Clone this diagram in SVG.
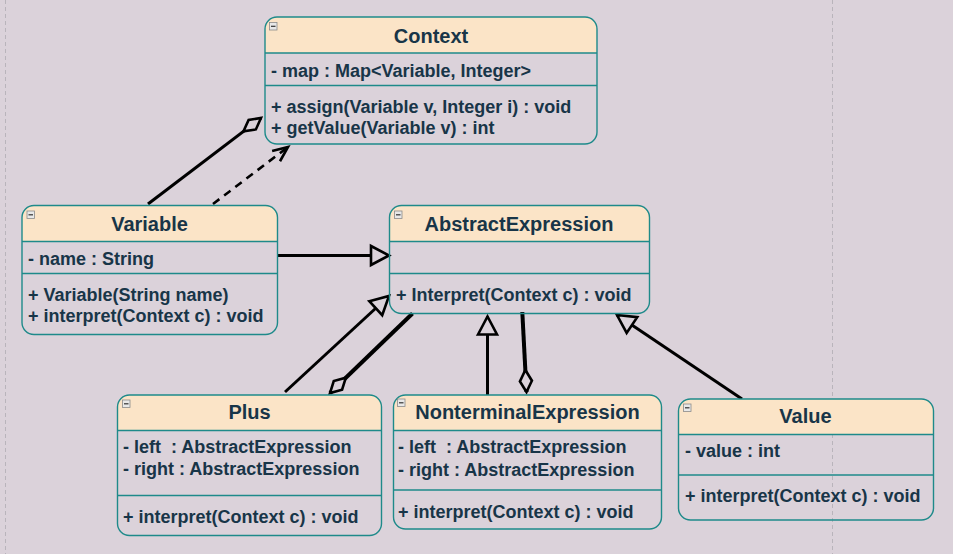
<svg xmlns="http://www.w3.org/2000/svg" width="953" height="554" viewBox="0 0 953 554">
<defs>
<style>
.hdr{fill:#fbe4c7;stroke:none}
.box{fill:none;stroke:#1e8a8a;stroke-width:1.4}
.sep{stroke:#1e8a8a;stroke-width:1.4}
.title{font-family:"Liberation Sans",Arial,sans-serif;font-weight:bold;font-size:20px;fill:#183548;text-anchor:middle}
.txt{font-family:"Liberation Sans",Arial,sans-serif;font-weight:bold;font-size:18px;fill:#183548;white-space:pre}
.icon{fill:#e8e8e8;stroke:#8a8a8a;stroke-width:0.8}
.iconm{stroke:#333;stroke-width:1.2}
.con{fill:none;stroke:#000;stroke-width:3}
.thick{stroke-width:4}
.dash{stroke-width:2.6;stroke-dasharray:8 6}
.grid{stroke:#b9b4bb;stroke-width:1;stroke-dasharray:4 3}
</style>
<marker id="tri" markerUnits="userSpaceOnUse" markerWidth="20" markerHeight="21" refX="18" refY="9.5" orient="auto" overflow="visible">
<path d="M0,0 L18,9.5 L0,19 Z" fill="#dbd2da" stroke="#000" stroke-width="2.6"/>
</marker>
<marker id="dia" markerUnits="userSpaceOnUse" markerWidth="24" markerHeight="14" refX="22" refY="6" orient="auto" overflow="visible">
<path d="M0,6 L11,0 L22,6 L11,12 Z" fill="#dbd2da" stroke="#000" stroke-width="2.6"/>
</marker>
<marker id="open" markerUnits="userSpaceOnUse" markerWidth="16" markerHeight="14" refX="15" refY="6.5" orient="auto" overflow="visible">
<path d="M0,0 L15,6.5 L0,13" fill="none" stroke="#000" stroke-width="2.6"/>
</marker>
</defs>
<rect width="953" height="554" fill="#dbd2da"/>
<g id="page-lines">
<line class="grid" x1="5.5" y1="0" x2="5.5" y2="554"/>
<line class="grid" x1="832.5" y1="0" x2="832.5" y2="554"/>
</g>
<g id="connectors">
<path class="con" d="M148,204 L261,118" marker-end="url(#dia)"/>
<path class="con dash" d="M213,204 L288,147" marker-end="url(#open)"/>
<path class="con" d="M277,255.5 L389,255.5" marker-end="url(#tri)"/>
<path class="con" d="M285,392 L389,296" marker-end="url(#tri)"/>
<path class="con thick" d="M412.5,313.5 L330,393" marker-end="url(#dia)"/>
<path class="con" d="M487.5,395 L487.5,316.5" marker-end="url(#tri)"/>
<path class="con thick" d="M522.3,312 L526.5,392" marker-end="url(#dia)"/>
<path class="con" d="M742,399 L617,315" marker-end="url(#tri)"/>
</g>
<g id="Context">
<path class="hdr" d="M265,53 V29 A12,12 0 0 1 277,17 H585 A12,12 0 0 1 597,29 V53 Z"/>
<rect class="box" x="265" y="17" width="332" height="127" rx="12"/>
<line class="sep" x1="265" y1="53" x2="597" y2="53"/>
<line class="sep" x1="265" y1="85.5" x2="597" y2="85.5"/>
<rect class="icon" x="269.5" y="22.5" width="7.5" height="7.5"/><line class="iconm" x1="271" y1="26.3" x2="275.5" y2="26.3"/>
<text class="title" x="431" y="43.3">Context</text>
<text class="txt" x="271" y="76.7">- map : Map&lt;Variable, Integer&gt;</text>
<text class="txt" x="271" y="112.7">+ assign(Variable v, Integer i) : void</text>
<text class="txt" x="271" y="134.3">+ getValue(Variable v) : int</text>
</g>
<g id="Variable">
<path class="hdr" d="M22,241.5 V217.5 A12,12 0 0 1 34,205.5 H265.5 A12,12 0 0 1 277.5,217.5 V241.5 Z"/>
<rect class="box" x="22" y="205.5" width="255.5" height="129" rx="12"/>
<line class="sep" x1="22" y1="241.5" x2="277.5" y2="241.5"/>
<line class="sep" x1="22" y1="273.5" x2="277.5" y2="273.5"/>
<rect class="icon" x="27" y="211" width="7.5" height="7.5"/><line class="iconm" x1="28.5" y1="214.8" x2="33" y2="214.8"/>
<text class="title" x="149.5" y="230.7">Variable</text>
<text class="txt" x="28" y="265">- name : String</text>
<text class="txt" x="28" y="301">+ Variable(String name)</text>
<text class="txt" x="28" y="322.3">+ interpret(Context c) : void</text>
</g>
<g id="AbstractExpression">
<path class="hdr" d="M389.5,241.5 V217.5 A12,12 0 0 1 401.5,205.5 H637.5 A12,12 0 0 1 649.5,217.5 V241.5 Z"/>
<rect class="box" x="389.5" y="205.5" width="260" height="108" rx="12"/>
<line class="sep" x1="389.5" y1="241.5" x2="649.5" y2="241.5"/>
<line class="sep" x1="389.5" y1="273.5" x2="649.5" y2="273.5"/>
<rect class="icon" x="394.5" y="211" width="7.5" height="7.5"/><line class="iconm" x1="396" y1="214.8" x2="400.5" y2="214.8"/>
<text class="title" x="519" y="230.7">AbstractExpression</text>
<text class="txt" x="396" y="301">+ Interpret(Context c) : void</text>
</g>
<g id="Plus">
<path class="hdr" d="M117.5,430.5 V407 A12,12 0 0 1 129.5,395 H369.5 A12,12 0 0 1 381.5,407 V430.5 Z"/>
<rect class="box" x="117.5" y="395" width="264" height="140.5" rx="12"/>
<line class="sep" x1="117.5" y1="430.5" x2="381.5" y2="430.5"/>
<line class="sep" x1="117.5" y1="495.5" x2="381.5" y2="495.5"/>
<rect class="icon" x="122.5" y="400" width="7.5" height="7.5"/><line class="iconm" x1="124" y1="403.8" x2="128.5" y2="403.8"/>
<text class="title" x="249.5" y="419.3">Plus</text>
<text class="txt" x="123" y="453.3">- left  : AbstractExpression</text>
<text class="txt" x="123" y="475.3">- right : AbstractExpression</text>
<text class="txt" x="123" y="522.7">+ interpret(Context c) : void</text>
</g>
<g id="NonterminalExpression">
<path class="hdr" d="M393.5,430.5 V407 A12,12 0 0 1 405.5,395 H649.5 A12,12 0 0 1 661.5,407 V430.5 Z"/>
<rect class="box" x="393.5" y="395" width="268" height="134" rx="12"/>
<line class="sep" x1="393.5" y1="430.5" x2="661.5" y2="430.5"/>
<line class="sep" x1="393.5" y1="490" x2="661.5" y2="490"/>
<rect class="icon" x="397.5" y="399" width="7.5" height="7.5"/><line class="iconm" x1="399" y1="402.8" x2="403.5" y2="402.8"/>
<text class="title" x="527.5" y="419.3">NonterminalExpression</text>
<text class="txt" x="398" y="453.3">- left  : AbstractExpression</text>
<text class="txt" x="398" y="476">- right : AbstractExpression</text>
<text class="txt" x="398" y="517.7">+ interpret(Context c) : void</text>
</g>
<g id="Value">
<path class="hdr" d="M678.5,434.5 V411 A12,12 0 0 1 690.5,399 H921.5 A12,12 0 0 1 933.5,411 V434.5 Z"/>
<rect class="box" x="678.5" y="399" width="255" height="121" rx="12"/>
<line class="sep" x1="678.5" y1="434.5" x2="933.5" y2="434.5"/>
<line class="sep" x1="678.5" y1="475" x2="933.5" y2="475"/>
<rect class="icon" x="683.5" y="404" width="7.5" height="7.5"/><line class="iconm" x1="685" y1="407.8" x2="689.5" y2="407.8"/>
<text class="title" x="805.5" y="423.3">Value</text>
<text class="txt" x="685" y="457.3">- value : int</text>
<text class="txt" x="685" y="502.3">+ interpret(Context c) : void</text>
</g>
</svg>
